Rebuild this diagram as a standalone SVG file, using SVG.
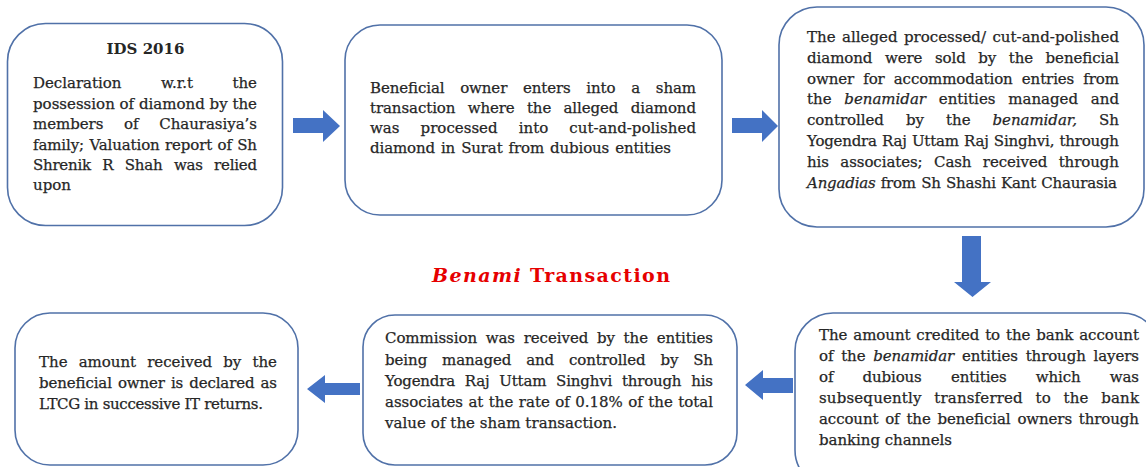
<svg xmlns="http://www.w3.org/2000/svg" width="1146" height="467" viewBox="0 0 1146 467">
<style>
.box{fill:#ffffff;stroke:#5071a8;stroke-width:1.6}
.arrow{fill:#4472c4}
.t{font-family:"DejaVu Serif","Liberation Serif",serif;font-size:15px;fill:#262626;stroke:#262626;stroke-width:0.25}
.b{font-weight:bold;stroke-width:0}
.m{text-anchor:middle}
.i{font-style:italic}
.title{font-family:"DejaVu Serif","Liberation Serif",serif;font-size:19px;font-weight:bold;fill:#e60000}
</style>
<rect width="1146" height="467" fill="#ffffff"/>

<g id="connectors">
<polygon class="arrow" points="293,118 323,118 323,110 340,126 323,142 323,133 293,133"/>
<polygon class="arrow" points="732,118 762,118 762,110 778,126 762,142 762,133 732,133"/>
<polygon class="arrow" points="962,236 981,236 981,282 991,282 972.5,297 954,282 962,282"/>
<polygon class="arrow" points="793,378 763,378 763,370 745,385 763,400 763,393 793,393"/>
<polygon class="arrow" points="360,383 325,383 325,375 307,389 325,403 325,395 360,395"/>
</g>

<g id="node-ids2016">
<rect class="box" x="7.5" y="23.5" width="275" height="202" rx="38" ry="38"/>
<text class="t b m" x="145.5" y="54">IDS 2016</text>
<text class="t" x="33" y="88" word-spacing="34.7" textLength="224" lengthAdjust="spacing">Declaration w.r.t the</text>
<text class="t" x="33" y="108.5" textLength="224" lengthAdjust="spacing">possession of diamond by the</text>
<text class="t" x="33" y="129" word-spacing="16" textLength="224" lengthAdjust="spacing">members of Chaurasiya’s</text>
<text class="t" x="33" y="150" word-spacing="0.7" textLength="224" lengthAdjust="spacing">family; Valuation report of Sh</text>
<text class="t" x="33" y="170" word-spacing="7" textLength="224" lengthAdjust="spacing">Shrenik R Shah was relied</text>
<text class="t" x="33" y="190">upon</text>
</g>

<g id="node-sham">
<rect class="box" x="345" y="25" width="377" height="190" rx="35" ry="35"/>
<text class="t" x="370" y="93" word-spacing="11.1" textLength="326" lengthAdjust="spacing">Beneficial owner enters into a sham</text>
<text class="t" x="370" y="113" word-spacing="7.6" textLength="326" lengthAdjust="spacing">transaction where the alleged diamond</text>
<text class="t" x="370" y="133" word-spacing="16.3" textLength="326" lengthAdjust="spacing">was processed into cut-and-polished</text>
<text class="t" x="370" y="153" word-spacing="1.4" textLength="301" lengthAdjust="spacing">diamond in Surat from dubious entities</text>
</g>

<g id="node-sold">
<rect class="box" x="779" y="7" width="365" height="220" rx="38" ry="38"/>
<text class="t" x="807" y="42" word-spacing="1.7" textLength="312" lengthAdjust="spacing">The alleged processed/ cut-and-polished</text>
<text class="t" x="807" y="63" word-spacing="7.8" textLength="312" lengthAdjust="spacing">diamond were sold by the beneficial</text>
<text class="t" x="807" y="83.5" word-spacing="4.5" textLength="312" lengthAdjust="spacing">owner for accommodation entries from</text>
<text class="t" x="807" y="104" word-spacing="8.1" textLength="312" lengthAdjust="spacing">the <tspan class="i">benamidar</tspan> entities managed and</text>
<text class="t" x="807" y="125" word-spacing="17.4" textLength="312" lengthAdjust="spacing">controlled by the <tspan class="i">benamidar,</tspan> Sh</text>
<text class="t" x="807" y="146" word-spacing="0.7" textLength="312" lengthAdjust="spacing">Yogendra Raj Uttam Raj Singhvi, through</text>
<text class="t" x="807" y="166.5" word-spacing="6.7" textLength="312" lengthAdjust="spacing">his associates; Cash received through</text>
<text class="t" x="807" y="187.5" word-spacing="0.7" textLength="310" lengthAdjust="spacing"><tspan class="i">Angadias</tspan> from Sh Shashi Kant Chaurasia</text>
</g>

<text id="title" class="title" x="432" y="282" textLength="238" lengthAdjust="spacing"><tspan class="i">Benami</tspan> Transaction</text>

<g id="node-credited">
<rect class="box" x="795" y="313" width="365" height="175" rx="38" ry="38"/>
<text class="t" x="819" y="340" word-spacing="1.2" textLength="320" lengthAdjust="spacing">The amount credited to the bank account</text>
<text class="t" x="819" y="360.5" word-spacing="3.1" textLength="320" lengthAdjust="spacing">of the <tspan class="i">benamidar</tspan> entities through layers</text>
<text class="t" x="819" y="381.5" word-spacing="24.6" textLength="320" lengthAdjust="spacing">of dubious entities which was</text>
<text class="t" x="819" y="402.5" word-spacing="7.7" textLength="320" lengthAdjust="spacing">subsequently transferred to the bank</text>
<text class="t" x="819" y="423.5" word-spacing="2.2" textLength="320" lengthAdjust="spacing">account of the beneficial owners through</text>
<text class="t" x="819" y="444.5" textLength="133" lengthAdjust="spacing">banking channels</text>
</g>

<g id="node-commission">
<rect class="box" x="363" y="315" width="374" height="150" rx="32" ry="32"/>
<text class="t" x="385" y="343" word-spacing="4" textLength="328" lengthAdjust="spacing">Commission was received by the entities</text>
<text class="t" x="385" y="365" word-spacing="10.1" textLength="328" lengthAdjust="spacing">being managed and controlled by Sh</text>
<text class="t" x="385" y="386" word-spacing="5.3" textLength="328" lengthAdjust="spacing">Yogendra Raj Uttam Singhvi through his</text>
<text class="t" x="385" y="407" word-spacing="0.7" textLength="328" lengthAdjust="spacing">associates at the rate of 0.18% of the total</text>
<text class="t" x="385" y="428" textLength="232" lengthAdjust="spacing">value of the sham transaction.</text>
</g>

<g id="node-ltcg">
<rect class="box" x="15" y="313" width="283" height="152" rx="35" ry="35"/>
<text class="t" x="39" y="367" word-spacing="6.4" textLength="238" lengthAdjust="spacing">The amount received by the</text>
<text class="t" x="39" y="388" word-spacing="1.4" textLength="238" lengthAdjust="spacing">beneficial owner is declared as</text>
<text class="t" x="39" y="409" textLength="224" lengthAdjust="spacing">LTCG in successive IT returns.</text>
</g>
</svg>
